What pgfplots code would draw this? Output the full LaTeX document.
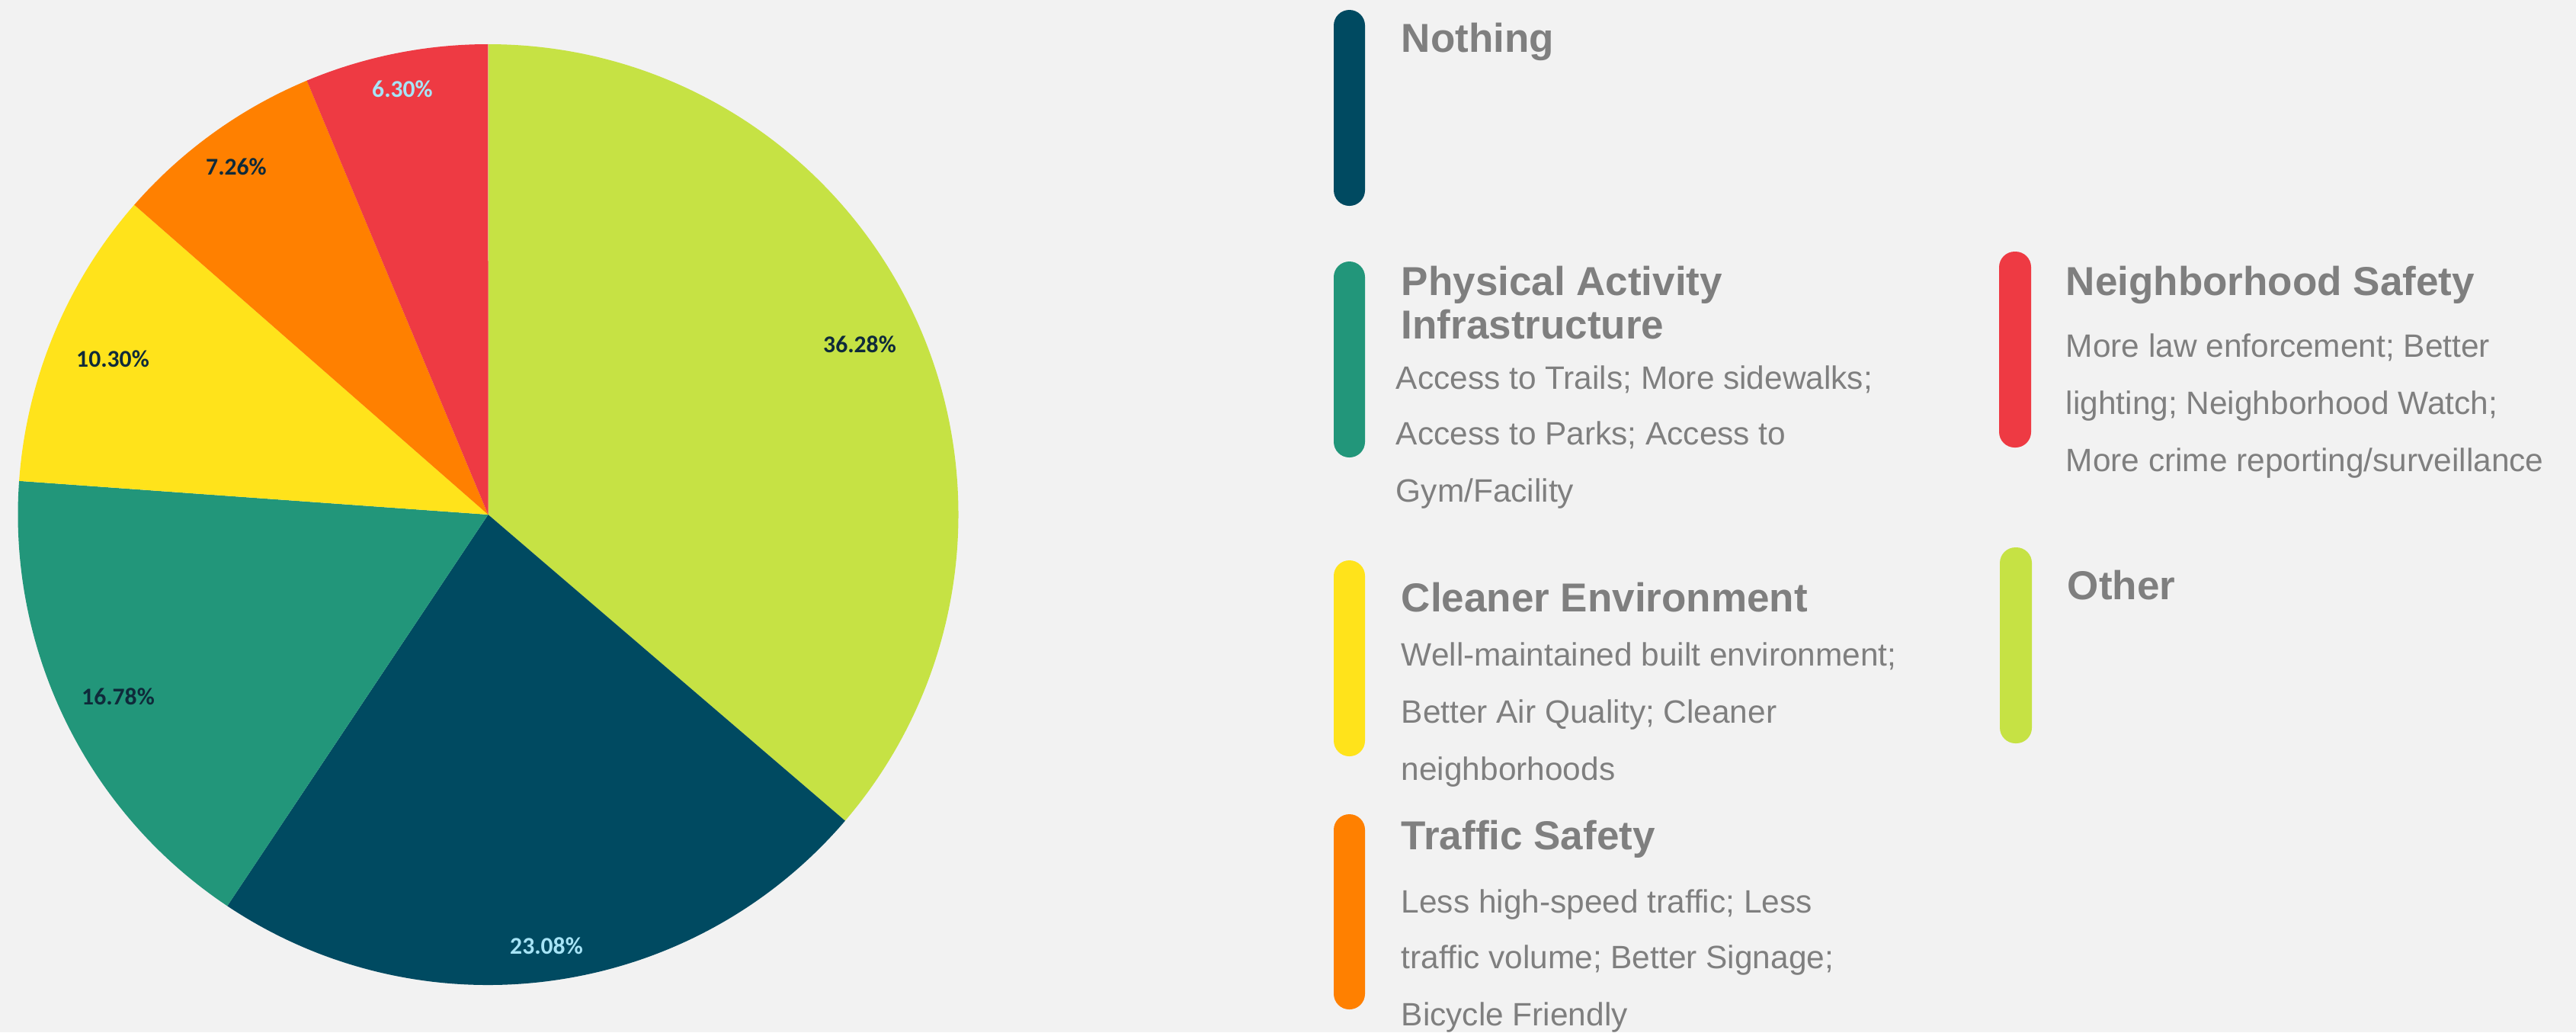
\documentclass[border=0pt]{standalone}
\usepackage{pgfplots}
\pgfplotsset{compat=1.18}
\usepackage{fontspec}
\setmainfont{Liberation Sans}
\newfontfamily\labfont{Carlito}
\definecolor{bgc}{HTML}{F2F2F2}
\definecolor{cOther}{HTML}{C6E244}
\definecolor{cNothing}{HTML}{004A61}
\definecolor{cPhys}{HTML}{22967A}
\definecolor{cClean}{HTML}{FFE31B}
\definecolor{cTraffic}{HTML}{FF8000}
\definecolor{cSafety}{HTML}{EE3A43}
\definecolor{labdark}{HTML}{0F2A3A}
\definecolor{lablight}{HTML}{A7E4F6}
\definecolor{txtgrey}{HTML}{7F7F7F}
\tikzset{
  ttl/.style={anchor=base west, inner sep=0pt, text=txtgrey, font=\fontsize{13.25}{16}\selectfont\bfseries},
  bdy/.style={anchor=base west, inner sep=0pt, text=txtgrey, font=\fontsize{10.6}{13}\selectfont},
  pct/.style={anchor=center, inner sep=0pt, font=\labfont\fontsize{7.9}{9}\selectfont\bfseries},
  mk/.style={rounded corners=5.1pt}
}
\begin{document}
\begin{tikzpicture}
\begin{axis}[scale only axis, width=845pt, height=338.5pt,
  xmin=0, xmax=3380, ymin=0, ymax=1354, y dir=reverse,
  hide axis, clip=false, at={(0,0)}, anchor=south west]
\fill[bgc] (axis cs:0,0) rectangle (axis cs:3380,1354);
% pie: centre (640.5,675), radius 617 units = 154.25pt; shares in percent
% Other 36.28
\addplot[draw=none, fill=cOther] coordinates {(640.5,675) (640.5,58)}
  arc[start angle=90, delta angle={-3.6*36.28}, radius=154.25pt] -- cycle;
% Nothing 23.08
\addplot[draw=none, fill=cNothing] coordinates {(640.5,675) (1108.9,1076.6)}
  arc[start angle={90-3.6*36.28}, delta angle={-3.6*23.08}, radius=154.25pt] -- cycle;
% Physical Activity Infrastructure 16.78
\addplot[draw=none, fill=cPhys] coordinates {(640.5,675) (298.2,1188.3)}
  arc[start angle={90-3.6*(36.28+23.08)}, delta angle={-3.6*16.78}, radius=154.25pt] -- cycle;
% Cleaner Environment 10.30
\addplot[draw=none, fill=cClean] coordinates {(640.5,675) (25.1,630.8)}
  arc[start angle={90-3.6*(36.28+23.08+16.78)}, delta angle={-3.6*10.30}, radius=154.25pt] -- cycle;
% Traffic Safety 7.26
\addplot[draw=none, fill=cTraffic] coordinates {(640.5,675) (176.2,268.7)}
  arc[start angle={90-3.6*(36.28+23.08+16.78+10.30)}, delta angle={-3.6*7.26}, radius=154.25pt] -- cycle;
% Neighborhood Safety 6.30
\addplot[draw=none, fill=cSafety] coordinates {(640.5,675) (402.6,105.7)}
  arc[start angle={90-3.6*(36.28+23.08+16.78+10.30+7.26)}, delta angle={-3.6*6.30}, radius=154.25pt] -- cycle;
% percentage labels
\node[pct, text=labdark] at (axis cs:1128,452) {36.28\%};
\node[pct, text=lablight] at (axis cs:717,1241) {23.08\%};
\node[pct, text=labdark] at (axis cs:155,914) {16.78\%};
\node[pct, text=labdark] at (axis cs:148,471) {10.30\%};
\node[pct, text=labdark] at (axis cs:310,219) {7.26\%};
\node[pct, text=lablight] at (axis cs:528,117) {6.30\%};
% legend markers
\fill[cNothing, mk] (axis cs:1750,13) rectangle (axis cs:1791,270);
\fill[cPhys, mk] (axis cs:1750,343) rectangle (axis cs:1791,600);
\fill[cClean, mk] (axis cs:1750,735) rectangle (axis cs:1791,992);
\fill[cTraffic, mk] (axis cs:1750,1068) rectangle (axis cs:1791,1324);
\fill[cSafety, mk] (axis cs:2623,330) rectangle (axis cs:2665,587);
\fill[cOther, mk] (axis cs:2624,718) rectangle (axis cs:2666,975);
% legend texts
\node[ttl] at (axis cs:1838,68) {Nothing};
\node[ttl] at (axis cs:1838,387) {Physical Activity};
\node[ttl] at (axis cs:1838,444) {Infrastructure};
\node[bdy] at (axis cs:1831,510) {Access to Trails; More sidewalks;};
\node[bdy] at (axis cs:1831,583) {Access to Parks; Access to};
\node[bdy] at (axis cs:1831,658) {Gym/Facility};
\node[ttl] at (axis cs:1838,802) {Cleaner Environment};
\node[bdy] at (axis cs:1838,873) {Well-maintained built environment;};
\node[bdy] at (axis cs:1838,948) {Better Air Quality; Cleaner};
\node[bdy] at (axis cs:1838,1023) {neighborhoods};
\node[ttl] at (axis cs:1838,1114) {Traffic Safety};
\node[bdy] at (axis cs:1838,1197) {Less high-speed traffic; Less};
\node[bdy] at (axis cs:1838,1270) {traffic volume; Better Signage;};
\node[bdy] at (axis cs:1838,1345) {Bicycle Friendly};
\node[ttl] at (axis cs:2710,387) {Neighborhood Safety};
\node[bdy] at (axis cs:2710,468) {More law enforcement; Better};
\node[bdy] at (axis cs:2710,543) {lighting; Neighborhood Watch;};
\node[bdy] at (axis cs:2710,618) {More crime reporting/surveillance};
\node[ttl] at (axis cs:2712,786) {Other};
\end{axis}
\pgfresetboundingbox
\path (0,0) rectangle (845pt,338.5pt);
\end{tikzpicture}
\end{document}
